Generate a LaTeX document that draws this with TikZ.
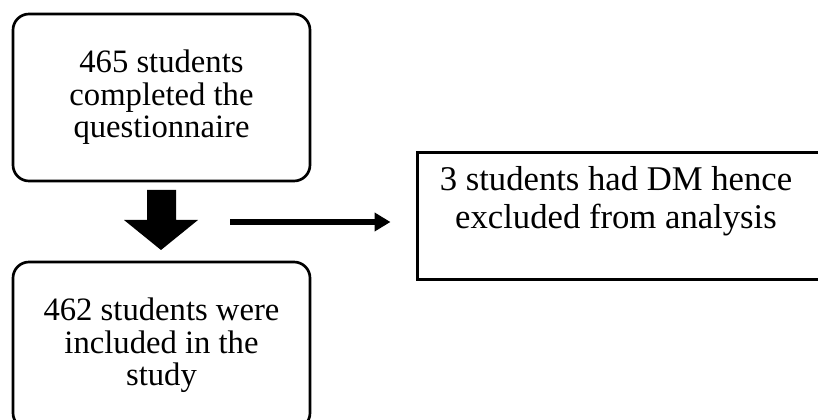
\documentclass[tikz,border=0pt]{standalone}
\usepackage{fontspec}
\setmainfont{Liberation Serif}
\usetikzlibrary{arrows.meta}
\begin{document}
\begin{tikzpicture}[x=0.75pt,y=-0.75pt,
  roundbox/.style={draw, line width=2pt, rounded corners=12pt,
    minimum width=222.75pt, minimum height=125.25pt, inner sep=0pt,
    align=center, font=\fontsize{24.5}{24.4}\selectfont},
  sqbox/.style={draw, line width=2.25pt, minimum width=303.75pt,
    minimum height=95.25pt, inner sep=0pt},
  boxtext/.style={align=center, inner sep=0pt, font=\fontsize{26}{28.5}\selectfont},
  blockarrow/.style={fill=black},
  thinarrow/.style={line width=4pt, -{Triangle[length=12pt,width=13.5pt]}}]
\useasboundingbox (0,0) rectangle (818,420);
\clip (0,0) rectangle (818,420);

\node[roundbox] (top) at (161.5,97.5) {465 students\\completed the\\questionnaire};
\node[roundbox] (bottom) at (161.5,345.5) {462 students were\\included in the\\study};
\node[sqbox] (excl) at (619.5,216.5) {};
\node[boxtext] (excltext) at (616,201.5) {3 students had DM hence\\excluded from analysis};

\fill[blockarrow] (147,190) -- (176,190) -- (176,220) -- (198,220)
  -- (161,250) -- (124,220) -- (147,220) -- cycle;

\coordinate (hstart) at (230,222);
\draw[thinarrow, shorten >=18.75pt] (hstart) -- (hstart -| excl.west);
\end{tikzpicture}
\end{document}
